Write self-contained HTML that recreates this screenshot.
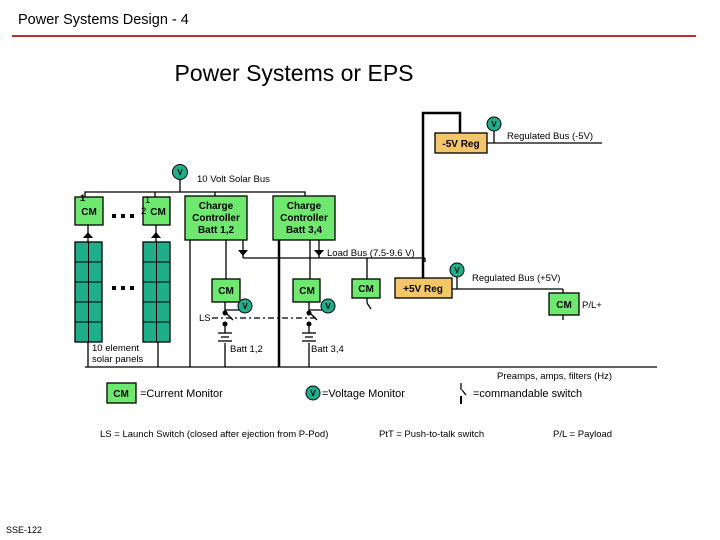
<!DOCTYPE html>
<html><head><style>
body{margin:0;background:#fff}
svg{display:block;font-family:"Liberation Sans",sans-serif}
</style></head><body>
<svg width="720" height="540" viewBox="0 0 720 540" xmlns="http://www.w3.org/2000/svg">
<text x="18" y="24" font-size="14.5" fill="#000">Power Systems Design - 4</text>
<line x1="12" y1="36" x2="696" y2="36" stroke="#c0302b" stroke-width="2"/>
<text x="294" y="81" font-size="23" text-anchor="middle" fill="#000">Power Systems or EPS</text>
<g stroke="#000" stroke-width="1.3" fill="none">
<polyline points="85,197 85,192 305,192 305,196"/>
<line x1="155" y1="192" x2="155" y2="197"/>
<line x1="180" y1="180" x2="180" y2="192"/>
<line x1="215" y1="192" x2="215" y2="196"/>
<line x1="85" y1="367" x2="657" y2="367"/>
<line x1="88" y1="342" x2="88" y2="367"/>
<line x1="158" y1="342" x2="158" y2="367"/>
<line x1="190" y1="240" x2="190" y2="367"/>
<line x1="279" y1="240" x2="279" y2="367" stroke-width="2.5"/>
<line x1="226" y1="240" x2="226" y2="279"/>
<line x1="310" y1="240" x2="310" y2="279"/>
<line x1="243" y1="240" x2="243" y2="258"/>
<line x1="319" y1="240" x2="319" y2="258"/>
<line x1="243" y1="258" x2="425" y2="258"/>
<line x1="367" y1="258" x2="367" y2="279"/>
<line x1="425" y1="258" x2="425" y2="262"/>
<polyline points="423,278 423,113 460,113 460,133" stroke-width="2.5"/>
<line x1="487" y1="143" x2="602" y2="143"/>
<line x1="494" y1="131" x2="494" y2="143"/>
<line x1="452" y1="289" x2="563" y2="289"/>
<line x1="563" y1="289" x2="563" y2="293"/>
<line x1="457" y1="277" x2="457" y2="289"/>
<line x1="563" y1="315" x2="563" y2="320"/>
<polyline points="225,302 225,310 240,310"/>
<polyline points="309,302 309,310 323,310"/>
<line x1="225" y1="324" x2="225" y2="333"/>
<line x1="309" y1="324" x2="309" y2="333"/>
<line x1="225" y1="343" x2="225" y2="367"/>
<line x1="309" y1="343" x2="309" y2="367"/>
<line x1="218" y1="333" x2="232" y2="333"/><line x1="221" y1="337" x2="229" y2="337"/><line x1="218" y1="341" x2="232" y2="341"/>
<line x1="302" y1="333" x2="316" y2="333"/><line x1="305" y1="337" x2="313" y2="337"/><line x1="302" y1="341" x2="316" y2="341"/>
<line x1="226" y1="313" x2="233" y2="320"/>
<line x1="310" y1="313" x2="317" y2="320"/>
<line x1="367" y1="298" x2="367" y2="303"/><line x1="367" y1="303" x2="371" y2="309"/>
<line x1="212" y1="318" x2="316" y2="318" stroke-dasharray="6,3,2,3"/>
<line x1="461" y1="383" x2="461" y2="390"/><line x1="461" y1="396" x2="461" y2="404" stroke-width="2"/><line x1="462" y1="390" x2="466" y2="395"/>
<line x1="88" y1="225" x2="88" y2="242"/><line x1="156" y1="225" x2="156" y2="242"/>
</g>
<g fill="#000">
<circle cx="225" cy="313" r="2.5"/><circle cx="225" cy="324" r="2.5"/>
<circle cx="309" cy="313" r="2.5"/><circle cx="309" cy="324" r="2.5"/>
<polygon points="83,238 93,238 88,232"/><polygon points="151,238 161,238 156,232"/>
<polygon points="238,250 248,250 243,256"/><polygon points="314,250 324,250 319,256"/>
<rect x="112" y="214" width="4" height="4"/><rect x="121" y="214" width="4" height="4"/><rect x="130" y="214" width="4" height="4"/>
<rect x="112" y="286" width="4" height="4"/><rect x="121" y="286" width="4" height="4"/><rect x="130" y="286" width="4" height="4"/>
</g>
<g stroke="#000" stroke-width="1.3" fill="#1fae8a">
<rect x="75" y="242" width="27" height="100"/><rect x="143" y="242" width="27" height="100"/>
</g>
<g stroke="#000" stroke-width="1">
<line x1="88.5" y1="242" x2="88.5" y2="342"/><line x1="156.5" y1="242" x2="156.5" y2="342"/>
<line x1="75" y1="262" x2="102" y2="262"/><line x1="75" y1="282" x2="102" y2="282"/><line x1="75" y1="302" x2="102" y2="302"/><line x1="75" y1="322" x2="102" y2="322"/>
<line x1="143" y1="262" x2="170" y2="262"/><line x1="143" y1="282" x2="170" y2="282"/><line x1="143" y1="302" x2="170" y2="302"/><line x1="143" y1="322" x2="170" y2="322"/>
</g>
<g stroke="#000" stroke-width="1.3" fill="#6ee86e">
<rect x="75" y="197" width="28" height="28"/><rect x="143" y="197" width="27" height="28"/>
<rect x="185" y="196" width="62" height="44"/><rect x="273" y="196" width="62" height="44"/>
<rect x="212" y="279" width="28" height="23"/><rect x="293" y="279" width="27" height="23"/><rect x="352" y="279" width="28" height="19"/>
<rect x="549" y="293" width="30" height="22"/>
<rect x="107" y="383" width="29" height="20"/>
</g>
<g stroke="#000" stroke-width="1.3" fill="#f5c56a">
<rect x="435" y="133" width="52" height="20"/><rect x="395" y="278" width="57" height="20"/>
</g>
<g stroke="#000" stroke-width="1" fill="#1fae8a">
<circle cx="180" cy="172" r="7.5"/><circle cx="494" cy="124" r="7"/><circle cx="457" cy="270" r="7"/>
<circle cx="245" cy="306" r="7"/><circle cx="328" cy="306" r="7"/><circle cx="313" cy="393" r="7"/>
</g>
<g font-size="8" font-weight="bold" text-anchor="middle" fill="#000">
<text x="180" y="175">V</text><text x="494" y="127">V</text><text x="457" y="273">V</text>
<text x="245" y="309">V</text><text x="328" y="309">V</text><text x="313" y="396">V</text>
</g>
<g font-size="10" font-weight="bold" text-anchor="middle" fill="#000">
<text x="89" y="215">CM</text><text x="158" y="215">CM</text>
<text x="216" y="209">Charge</text><text x="216" y="221">Controller</text><text x="216" y="233">Batt 1,2</text>
<text x="304" y="209">Charge</text><text x="304" y="221">Controller</text><text x="304" y="233">Batt 3,4</text>
<text x="226" y="294">CM</text><text x="307" y="294">CM</text><text x="366" y="292">CM</text>
<text x="564" y="308">CM</text><text x="121" y="397">CM</text>
<text x="461" y="147">-5V Reg</text><text x="423" y="292">+5V Reg</text>
</g>
<g font-size="9.5" fill="#000">
<text x="197" y="182">10 Volt Solar Bus</text>
<text x="80" y="201" font-weight="bold">1</text><text x="145" y="203">1</text><text x="141" y="214">2</text>
<text x="327" y="256">Load Bus (7.5-9.6 V)</text>
<text x="507" y="139">Regulated Bus (-5V)</text>
<text x="472" y="281">Regulated Bus (+5V)</text>
<text x="582" y="308">P/L+</text>
<text x="199" y="321">LS</text>
<text x="230" y="352">Batt 1,2</text><text x="311" y="352">Batt 3,4</text>
<text x="92" y="351">10 element</text><text x="92" y="362">solar panels</text>
<text x="497" y="379">Preamps, amps, filters (Hz)</text>
<text x="100" y="437">LS = Launch Switch (closed after ejection from P-Pod)</text>
<text x="379" y="437">PtT = Push-to-talk switch</text>
<text x="553" y="437">P/L = Payload</text>
</g>
<g font-size="11" fill="#000">
<text x="140" y="397">=Current Monitor</text>
<text x="322" y="397">=Voltage Monitor</text>
<text x="473" y="397">=commandable switch</text>
</g>
<text x="6" y="533" font-size="9" fill="#000">SSE-122</text>
</svg>
</body></html>
